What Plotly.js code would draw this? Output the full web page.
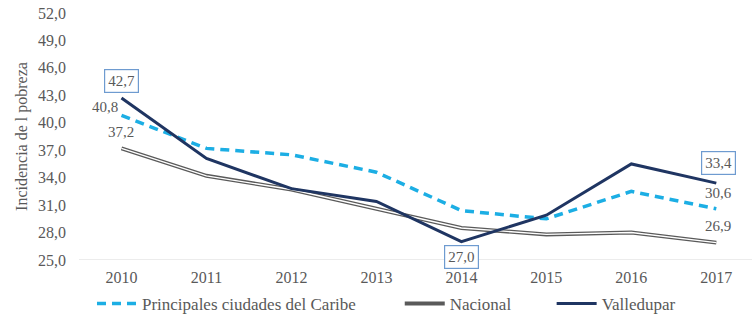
<!DOCTYPE html>
<html>
<head>
<meta charset="utf-8">
<script src="https://cdn.plot.ly/plotly-3.0.1.min.js"></script>
<style>html,body{margin:0;padding:0;background:#fff;}#chart{width:752px;height:314px;}</style>
</head>
<body>
<div id="chart"></div>
<script>
const years = ['2010','2011','2012','2013','2014','2015','2016','2017'];
const caribe = [40.8, 37.2, 36.5, 34.6, 30.4, 29.5, 32.5, 30.6];
const nacional = [37.2, 34.2, 32.7, 30.6, 28.5, 27.8, 28.0, 26.9];
const valledupar = [42.7, 36.1, 32.8, 31.4, 27.0, 29.9, 35.5, 33.4];
const yTicks = [25, 28, 31, 34, 37, 40, 43, 46, 49, 52];

const grey = '#595959';
const fontFam = 'Liberation Serif, DejaVu Serif, serif';
const fmt = v => v.toFixed(1).replace('.', ',');

const traces = [
  {x: years, y: caribe, name: 'Principales ciudades del Caribe', mode: 'lines', legend: 'legend',
   line: {color: '#1CAEE4', width: 3.5, dash: '9px,6px'}},
  {x: years, y: nacional, name: 'Nacional', mode: 'lines', legend: 'legend2',
   line: {color: '#5a5a5a', width: 4}},
  {x: years, y: nacional, name: 'Nacional', mode: 'lines', showlegend: false, hoverinfo: 'skip', legend: 'legend2',
   line: {color: '#ffffff', width: 1.4}},
  {x: years, y: valledupar, name: 'Valledupar', mode: 'lines', legend: 'legend3',
   line: {color: '#1F3562', width: 3}}
];

const boxed = {bordercolor: '#6E9BD0', borderwidth: 1.2, borderpad: 3, bgcolor: '#ffffff'};
const ann = (i, y, text, xs, ys, box) => Object.assign(
  {xref: 'x', yref: 'y', x: i, y: y, text: text, xshift: xs, yshift: ys, showarrow: false,
   font: {family: fontFam, size: 15, color: grey}}, box ? boxed : {});
const annotations = [
  ann(0, valledupar[0], fmt(valledupar[0]), 0, 17, true),
  ann(0, caribe[0], fmt(caribe[0]), -16, 8, false),
  ann(0, nacional[0], fmt(nacional[0]), 0, 16, false),
  ann(4, valledupar[4], fmt(valledupar[4]), 0, -15, true),
  ann(7, valledupar[7], fmt(valledupar[7]), 2, 20, true),
  ann(7, caribe[7], fmt(caribe[7]), 2, 16, false),
  ann(7, nacional[7], fmt(nacional[7]), 2, 17, false)
];

const legBase = {orientation: 'h', xanchor: 'left', y: -0.178, yanchor: 'middle',
                 font: {family: fontFam, size: 17, color: grey}, itemwidth: 40,
                 bgcolor: 'rgba(0,0,0,0)'};

const layout = {
  width: 752, height: 314,
  margin: {l: 78.5, r: 0, t: 13, b: 54, autoexpand: false},
  paper_bgcolor: '#ffffff', plot_bgcolor: '#ffffff',
  separators: ',.',
  font: {family: fontFam, size: 15, color: grey},
  showlegend: true,
  legend: Object.assign({x: 0.0193}, legBase),
  legend2: Object.assign({x: 0.4766}, legBase),
  legend3: Object.assign({x: 0.7023}, legBase),
  xaxis: {type: 'category', range: [-0.5, 7.42], showgrid: false, zeroline: false,
          showline: false, ticks: '', ticklabelstandoff: 6,
          tickfont: {family: fontFam, size: 16, color: grey}},
  yaxis: {range: [25, 52], tickvals: yTicks, tickformat: '.1f', showgrid: false,
          zeroline: false, showline: false, ticks: '', ticklen: 0, ticklabelstandoff: 12,
          tickfont: {family: fontFam, size: 16, color: grey},
          title: {text: 'Incidencia de l pobreza', font: {family: fontFam, size: 16, color: grey}, standoff: 6}},
  shapes: [{type: 'line', xref: 'paper', yref: 'y', x0: 0, x1: 1, y0: 25, y1: 25,
            line: {color: '#D9D9D9', width: 1}}],
  annotations: annotations
};

Plotly.newPlot('chart', traces, layout, {displayModeBar: false, staticPlot: true});
</script>
</body>
</html>
